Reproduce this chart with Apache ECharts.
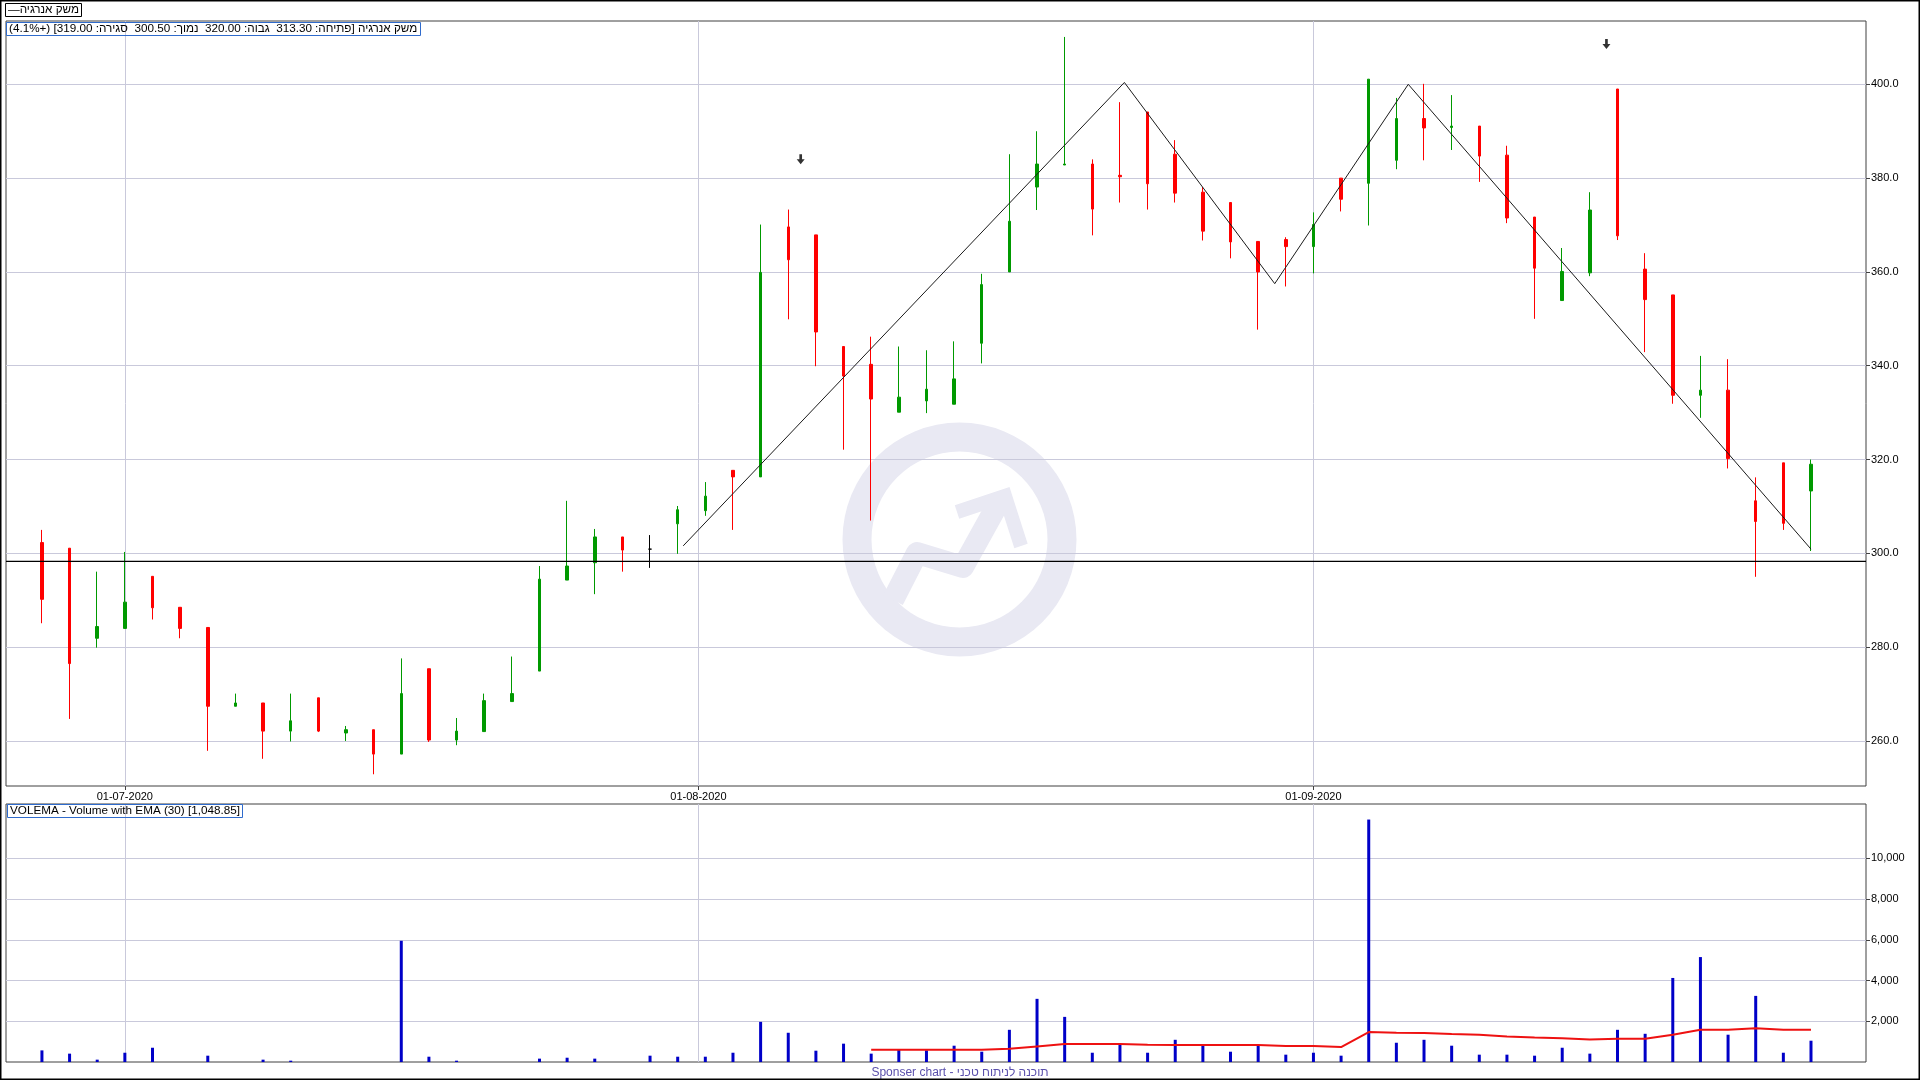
<!DOCTYPE html>
<html><head><meta charset="utf-8">
<script src="https://cdn.jsdelivr.net/npm/echarts@6/dist/echarts.min.js"></script>
<style>html,body{margin:0;padding:0;background:#fff}#c{width:1920px;height:1080px}</style>
</head><body><div id="c"></div>
<script>
// ---- data ----
const dates = ['2020-06-28','2020-06-29','2020-06-30','2020-07-01','2020-07-02','2020-07-05','2020-07-06','2020-07-07','2020-07-08','2020-07-09',
'2020-07-12','2020-07-13','2020-07-14','2020-07-15','2020-07-16','2020-07-19','2020-07-20','2020-07-21','2020-07-22','2020-07-23',
'2020-07-26','2020-07-27','2020-07-28','2020-07-29','2020-08-02','2020-08-03','2020-08-04','2020-08-05','2020-08-06','2020-08-09',
'2020-08-10','2020-08-11','2020-08-12','2020-08-13','2020-08-16','2020-08-17','2020-08-18','2020-08-19','2020-08-20','2020-08-23',
'2020-08-24','2020-08-25','2020-08-26','2020-08-27','2020-08-30','2020-08-31','2020-09-01','2020-09-02','2020-09-03','2020-09-06',
'2020-09-07','2020-09-08','2020-09-09','2020-09-10','2020-09-13','2020-09-14','2020-09-15','2020-09-16','2020-09-17','2020-09-21',
'2020-09-22','2020-09-23','2020-09-24','2020-09-29','2020-09-30'];
const openV  = [302.3,301.1,281.9,284.0,295.1,288.5,284.2,267.4,268.1,262.1,269.2,261.7,262.4,257.2,275.4,260.2,262.0,268.4,274.9,294.3,
298.0,303.5,300.9,306.3,309.1,317.7,316.3,369.6,367.9,344.1,340.3,330.1,332.5,331.8,344.8,360.0,378.1,382.8,383.0,380.6,
394.1,385.1,377.0,374.8,366.5,366.9,365.4,380.0,378.9,383.8,392.7,390.8,391.1,384.9,371.7,353.9,359.8,399.0,360.6,355.1,
333.7,334.8,311.2,319.3,313.3];
const closeV = [290.2,276.5,284.4,289.6,288.4,284.0,267.4,268.1,262.1,264.3,262.1,262.4,257.2,270.1,260.2,262.1,268.6,270.1,294.5,297.3,
303.5,300.7,300.9,309.3,312.2,316.3,359.9,362.6,347.2,337.8,332.9,333.3,335.0,337.2,357.3,370.8,383.0,383.0,373.4,380.3,
378.8,376.8,368.7,366.4,360.0,365.4,370.1,375.5,401.1,392.7,390.7,391.1,384.7,371.5,360.8,360.1,373.2,367.7,354.1,333.7,
334.8,320.2,306.8,306.4,319.0];
const lowV   = [285.1,264.7,279.9,284.0,285.9,281.9,257.9,267.4,256.2,259.9,261.9,260.0,252.9,257.2,259.8,259.1,262.0,268.4,274.9,294.3,
291.3,296.1,296.9,299.9,308.0,305.0,316.3,349.9,339.9,322.1,307.0,330.1,329.9,331.8,340.5,360.0,373.2,382.8,367.8,374.8,
373.3,374.8,366.7,362.9,347.7,356.9,359.7,372.9,369.9,381.9,383.8,386.0,379.2,370.4,350.0,353.9,359.1,366.8,342.9,331.9,
328.9,318.1,295.0,305.0,300.5];
const highV  = [305.0,301.1,296.1,300.3,295.1,288.5,284.2,270.1,268.1,270.1,269.2,263.2,262.4,277.6,275.4,264.9,270.1,278.0,297.3,311.2,
305.2,303.5,303.9,310.1,315.2,317.7,370.1,373.3,367.9,344.1,346.2,344.1,343.3,345.2,359.6,385.1,390.0,410.1,384.0,396.2,
394.1,388.1,378.1,374.8,366.5,367.4,372.7,380.0,401.1,397.1,400.1,397.7,391.1,386.9,371.7,365.1,377.0,399.0,364.0,355.1,
342.1,341.4,316.2,319.3,320.0];
const volumeV = [570,410,115,455,700,0,310,0,115,65,0,0,0,5950,260,65,0,0,165,210,
165,0,310,260,260,455,1970,1435,555,900,410,600,570,800,505,1580,3100,2215,455,900,
455,1090,850,505,800,360,455,310,11900,945,1090,800,360,360,310,700,410,1580,1385,4125,
5150,1340,3245,455,1045];
const emaStart = 30;
const emaV = [600,600,600,600,600,650,765,880,880,880,850,830,830,830,830,780,780,735,1470,1435,
1420,1370,1340,1255,1205,1160,1110,1140,1140,1340,1580,1580,1660,1580,1580];
const zigzagX = [23.2,39.16,44.6,49.43,64.0];
const zigzagY = [301.6,400.4,357.5,400.0,300.9];
const supportLevel = 298.3;
const arrowX = [27.45,56.6];
const arrowY = [384.0,408.6];
const monthTickPos = [3,23.75,46];
const monthTickLabels = ['01-07-2020','01-08-2020','01-09-2020'];
const priceTicks = [260,280,300,320,340,360,380,400];
const volumeTicks = [2000,4000,6000,8000,10000];

// ---- build ----
const FONT = 'Liberation Sans, Arial, sans-serif';
const X_MIN = -1.30, X_MAX = 65.99;
const candleData = dates.map((d,i)=>{
  const item = {value:[i, openV[i], closeV[i], lowV[i], highV[i]]};
  if (openV[i] === closeV[i]) item.itemStyle = {color:'#000',color0:'#000',borderColor:'#000',borderColor0:'#000'};
  return item;
});
const last = dates.length-1;
const chg = (closeV[last]-closeV[last-1])/closeV[last-1]*100;
const infoText = 'משק אנרגיה [פתיחה: ' + openV[last].toFixed(2) + '  גבוה: ' + highV[last].toFixed(2) +
  '  נמוך: ' + lowV[last].toFixed(2) + '  סגירה: ' + closeV[last].toFixed(2) + '] (+' + chg.toFixed(1) + '%)';

function monthLabel(v){
  let best=0, bd=1e9;
  monthTickPos.forEach((p,k)=>{const d=Math.abs(p-v); if(d<bd){bd=d;best=k;}});
  return monthTickLabels[best];
}
const gridLineStyle = {color:'#c9c9db', width:1};
const boxText = {fontSize:11.7, fontWeight:'normal', color:'#000', fontFamily:FONT, lineHeight:14};

const chart = echarts.init(document.getElementById('c'), null, {renderer:'canvas'});
chart.setOption({
  animation:false,
  backgroundColor:'#ffffff',
  textStyle:{fontFamily:FONT},
  title:[
    {text:'—משק אנרגיה', left:5, top:3, padding:[0,3,0,3], borderColor:'#000', borderWidth:1, textStyle:boxText},
    {text:'\u202B'+infoText+'\u202C', left:6, top:22, padding:[0,3,0,3], borderColor:'#2f6bcc', borderWidth:1, textStyle:boxText},
    {text:'VOLEMA - Volume with EMA (30) [1,048.85]', left:7, top:804, padding:[0,3,0,3], borderColor:'#2f6bcc', borderWidth:1, textStyle:boxText},
    {text:'Sponser chart - תוכנה לניתוח טכני', left:'center', top:1066, padding:0,
     textStyle:{fontSize:12, fontWeight:'normal', color:'#5a50ac', fontFamily:FONT, lineHeight:14}}
  ],
  graphic:[
    {type:'ring', silent:true, z:-10, shape:{cx:959.5, cy:539.5, r:117, r0:88}, style:{fill:'#e9e9f3'}},
    {type:'polyline', silent:true, z:-10, shape:{points:[[893,600],[917,553],[963,567],[999,502]]},
     style:{stroke:'#e9e9f3', lineWidth:22, fill:null, lineJoin:'round'}},
    {type:'polyline', silent:true, z:-10, shape:{points:[[957,512],[1005,496],[1021,546]]},
     style:{stroke:'#e9e9f3', lineWidth:14, fill:null, lineJoin:'miter'}},
    {type:'rect', silent:true, z:100, shape:{x:0.5, y:0.5, width:1919, height:1079}, style:{fill:null, stroke:'#000', lineWidth:2}}
  ],
  grid:[
    {left:6, top:21, width:1860, height:765, show:true, borderColor:'#404040', borderWidth:1, backgroundColor:'transparent'},
    {left:6, top:804, width:1860, height:258, show:true, borderColor:'#404040', borderWidth:1, backgroundColor:'transparent'}
  ],
  xAxis:[
    {type:'value', gridIndex:0, min:X_MIN, max:X_MAX, position:'bottom',
     axisLine:{show:false, onZero:false},
     axisTick:{show:true, customValues:monthTickPos, length:4, lineStyle:{color:'#404040'}},
     axisLabel:{show:true, customValues:monthTickPos, formatter:monthLabel, margin:5, color:'#000', fontSize:11, fontFamily:FONT},
     splitLine:{show:true, lineStyle:gridLineStyle}},
    {type:'value', gridIndex:1, min:X_MIN, max:X_MAX, position:'bottom',
     axisLine:{show:false, onZero:false},
     axisTick:{show:false, customValues:monthTickPos},
     axisLabel:{show:false, customValues:monthTickPos},
     splitLine:{show:true, lineStyle:gridLineStyle}}
  ],
  yAxis:[
    {type:'value', gridIndex:0, position:'right', min:250.4, max:413.5,
     axisLine:{show:false, onZero:false},
     axisTick:{show:true, customValues:priceTicks, length:4, lineStyle:{color:'#404040'}},
     axisLabel:{customValues:priceTicks, formatter:v=>Number(v).toFixed(1), margin:5, color:'#000', fontSize:11, fontFamily:FONT},
     splitLine:{show:true, lineStyle:gridLineStyle}},
    {type:'value', gridIndex:1, position:'right', min:0, max:12663,
     axisLine:{show:false, onZero:false},
     axisTick:{show:true, customValues:volumeTicks, length:4, lineStyle:{color:'#404040'}},
     axisLabel:{customValues:volumeTicks, formatter:v=>Number(v).toLocaleString('en-US'), margin:5, color:'#000', fontSize:11, fontFamily:FONT},
     splitLine:{show:true, lineStyle:gridLineStyle}}
  ],
  series:[
    {type:'candlestick', xAxisIndex:0, yAxisIndex:0, barWidth:3, z:5,
     dimensions:['idx','open','close','lowest','highest'],
     encode:{x:0, y:[1,2,3,4]},
     itemStyle:{color:'#009900', color0:'#ff0000', borderColor:'#009900', borderColor0:'#ff0000', borderWidth:1},
     data:candleData},
    {type:'line', xAxisIndex:0, yAxisIndex:0, z:6, showSymbol:false, symbol:'none',
     lineStyle:{color:'#000', width:1.4}, data:[[X_MIN,supportLevel],[X_MAX,supportLevel]]},
    {type:'line', xAxisIndex:0, yAxisIndex:0, z:6, showSymbol:false, symbol:'none',
     lineStyle:{color:'#1a1a1a', width:1}, data:zigzagX.map((x,k)=>[x,zigzagY[k]])},
    {type:'scatter', xAxisIndex:0, yAxisIndex:0, z:7,
     symbol:'path://M3,0 L6,0 L6,5 L9,5 L4.5,10 L0,5 L3,5 Z', symbolSize:[8,10],
     itemStyle:{color:'#000'}, data:arrowX.map((x,k)=>[x,arrowY[k]])},
    {type:'bar', xAxisIndex:1, yAxisIndex:1, barWidth:3, z:5,
     itemStyle:{color:'#0000c8'}, data:volumeV.map((v,i)=>[i,v])},
    {type:'line', xAxisIndex:1, yAxisIndex:1, z:6, showSymbol:false, symbol:'none',
     lineStyle:{color:'#ee1111', width:2}, data:emaV.map((v,k)=>[emaStart+k,v])}
  ]
});
</script></body></html>
